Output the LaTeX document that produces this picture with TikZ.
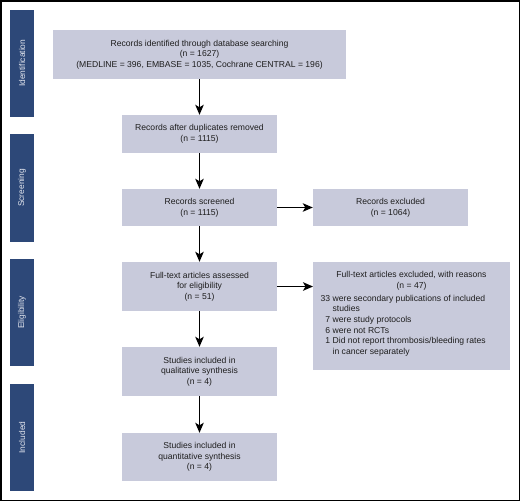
\documentclass[tikz,border=0pt]{standalone}
\usepackage{fontspec}
\setmainfont{Liberation Sans}
\usetikzlibrary{arrows.meta}
\definecolor{navy}{HTML}{2D4878}
\definecolor{boxfill}{HTML}{C8CADB}
\definecolor{bartext}{HTML}{E4E7EF}
\definecolor{ink}{HTML}{1E1E1E}
\begin{document}
\begin{tikzpicture}[x=1pt,y=-1pt,
  box/.style={fill=boxfill, text=ink, align=center, inner sep=0pt, font=\fontsize{8.6}{10.7}\selectfont},
  txt/.style={text=ink, inner sep=0pt, font=\fontsize{8.6}{10.7}\selectfont},
  bar/.style={fill=navy, minimum width=24pt, inner sep=0pt},
  barlabel/.style={rotate=90, text=bartext, inner sep=0pt, font=\fontsize{8.4}{10}\selectfont},
  arr/.style={-{Stealth[length=10pt,width=8.5pt,inset=2.5pt]}, line width=1.3pt, black}]
\useasboundingbox (0,0) rectangle (520,501);
\draw[line width=1.5pt] (0.75,0.75) rectangle (519.25,500.25);
% side bars
\node[bar, minimum height=107.5pt] (barI) at (22,63.25) {};
\node[barlabel] (labI) at (barI) {Identification};
\node[bar, minimum height=108pt] (barS) at (22,188) {};
\node[barlabel] (labS) at (barS) {Screening};
\node[bar, minimum height=107pt] (barE) at (22,312.5) {};
\node[barlabel] (labE) at (barE) {Eligibility};
\node[bar, minimum height=107pt] (barN) at (22,437.5) {};
\node[barlabel] (labN) at (barN) {Included};
% boxes
\node[box, minimum width=293pt, minimum height=49pt] (b1) at (199.5,54.5)
  {Records identified through database searching\\(n = 1627)\\(MEDLINE = 396, EMBASE = 1035, Cochrane CENTRAL = 196)};
\node[box, minimum width=155pt, minimum height=38pt] (b2) at (199.5,134)
  {Records after duplicates removed\\(n = 1115)};
\node[box, minimum width=155pt, minimum height=37pt] (b3) at (199.5,207.5)
  {Records screened\\(n = 1115)};
\node[box, minimum width=155pt, minimum height=37pt] (ex1) at (390.5,207.5)
  {Records excluded\\(n = 1064)};
\node[box, minimum width=155pt, minimum height=49pt] (b4) at (199.5,286.5)
  {Full-text articles assessed\\for eligibility\\(n = 51)};
\node[box, minimum width=197pt, minimum height=108pt, anchor=north west] (ex2) at (313,262) {};
\node[txt, align=center, anchor=north] (ex2t) at (411.5,271.5)
  {Full-text articles excluded, with reasons\\(n = 47)};
\node[txt, anchor=north west] (ex2l) at (320.5,293.5)
  {\setlength{\tabcolsep}{0pt}\begin{tabular}{@{}r@{\hspace{2.4pt}}l@{}}
  33 & were secondary publications of included\\
     & studies\\
  7 & were study protocols\\
  6 & were not RCTs\\
  1 & Did not report thrombosis/bleeding rates\\
    & in cancer separately
  \end{tabular}};
\node[box, minimum width=155pt, minimum height=49pt] (b5) at (199.5,371.5)
  {Studies included in\\qualitative synthesis\\(n = 4)};
\node[box, minimum width=155pt, minimum height=48pt] (b6) at (199.5,457)
  {Studies included in\\quantitative synthesis\\(n = 4)};
% arrows
\draw[arr] (b1) -- (b2);
\draw[arr] (b2) -- (b3);
\draw[arr] (b3) -- (b4);
\draw[arr] (b4) -- (b5);
\draw[arr] (b5) -- (b6);
\draw[arr] (b3) -- (ex1);
\draw[arr] (b4.east) -- (b4.east -| ex2.west);
\end{tikzpicture}
\end{document}
